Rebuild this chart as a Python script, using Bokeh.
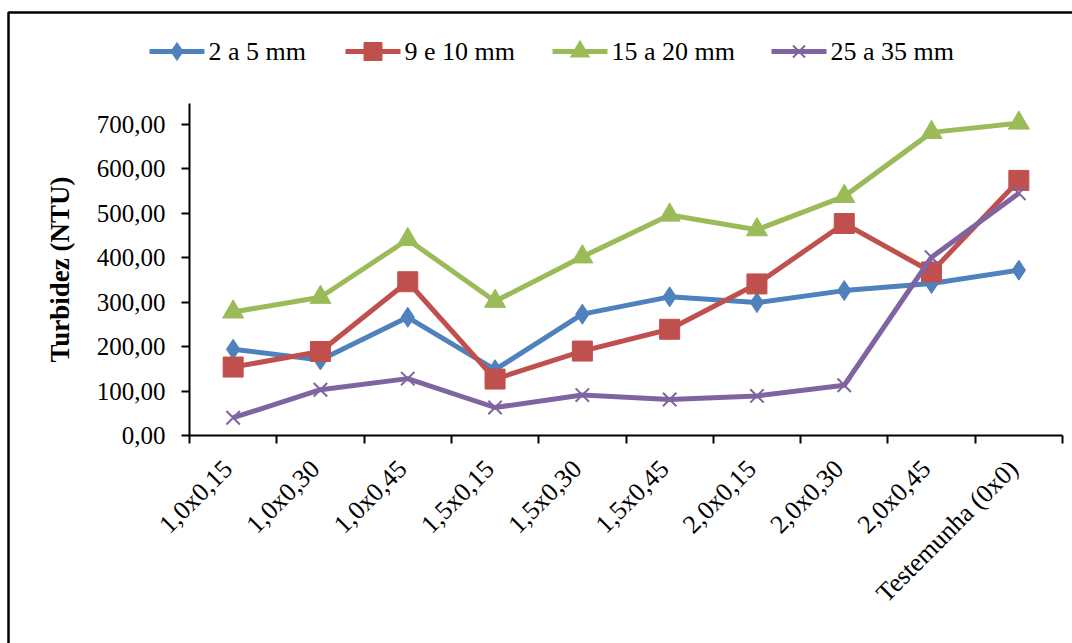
from bokeh.plotting import figure
from bokeh.models import Range1d, FixedTicker, BoxAnnotation, LinearAxis
from bokeh.core.properties import value
from bokeh.embed import file_html
from bokeh.resources import INLINE

# Spacing treatments (m x m) and turbidity readings (NTU) per gravel size
categories = ["1,0x0,15", "1,0x0,30", "1,0x0,45", "1,5x0,15", "1,5x0,30",
              "1,5x0,45", "2,0x0,15", "2,0x0,30", "2,0x0,45", "Testemunha (0x0)"]
s_2a5 = [194, 170, 266, 148, 273, 312, 299, 326, 342, 372]
s_9e10 = [154, 189, 346, 127, 190, 239, 341, 477, 368, 574]
s_15a20 = [278, 311, 441, 302, 402, 496, 463, 538, 682, 703]
s_25a35 = [40, 103, 128, 63, 91, 81, 89, 113, 401, 545]
series_names = ["2 a 5 mm", "9 e 10 mm", "15 a 20 mm", "25 a 35 mm"]
y_ticks = [0, 100, 200, 300, 400, 500, 600, 700]
y_max = 747

FONT = "Liberation Serif"
colors = ["#4F81BD", "#C0504D", "#9BBB59", "#8064A2"]
markers = ["diamond", "square", "triangle", "x"]
sizes = [20, 20, 21, 19]

# Page geometry: the plotting frame fills the canvas, and the axes are pinned
# at x=0 / y=0 so that legend, labels and border can sit anywhere on the page.
W, H = 1072, 643
AX_L, AX_R, AX_T, AX_B = 189, 1062, 103, 435
n = len(categories)
px_x = (AX_R - AX_L) / n
px_y = (AX_B - AX_T) / y_max
x_range = Range1d(-AX_L / px_x, n + (W - AX_R) / px_x)
y_range = Range1d(-(H - AX_B) / px_y, y_max + AX_T / px_y)


def sx(px):
    """page pixel column -> x data value"""
    return x_range.start + px / px_x


def sy(py):
    """page pixel row (from top) -> y data value"""
    return y_range.end - py / px_y


x = [i + 0.5 for i in range(n)]

p = figure(width=W, height=H, output_backend="svg", toolbar_location=None,
           x_range=x_range, y_range=y_range,
           x_axis_location=None, y_axis_location=None,
           min_border=0)
p.outline_line_color = None
p.grid.visible = False
p.background_fill_color = "white"
p.border_fill_color = "white"


def style_axis(ax):
    ax.major_tick_out = 8
    ax.major_tick_in = 0
    ax.minor_tick_line_color = None
    ax.axis_line_width = 2
    ax.major_tick_line_width = 2
    ax.axis_line_color = "black"
    ax.major_tick_line_color = "black"


# x axis: tick marks between categories
xa = LinearAxis(fixed_location=0, bounds=(0, n),
                ticker=FixedTicker(ticks=list(range(n + 1))),
                major_label_overrides={i: "" for i in range(n + 1)})
style_axis(xa)
p.add_layout(xa, "below")

# category names, rotated, ending just left of each category centre
label_pos = [xi - 0.06 for xi in x]
xl = LinearAxis(fixed_location=0, ticker=FixedTicker(ticks=label_pos),
                major_label_overrides={lp: c for lp, c in zip(label_pos, categories)},
                major_label_orientation=0.785398, major_label_standoff=23,
                major_label_text_font=FONT, major_label_text_font_size="26px",
                major_label_text_color="black",
                axis_line_color=None, major_tick_line_color=None,
                minor_tick_line_color=None)
p.add_layout(xl, "below")

ya = LinearAxis(fixed_location=0, bounds=(0, y_max),
                ticker=FixedTicker(ticks=y_ticks),
                major_label_overrides={t: f"{t},00" for t in y_ticks})
style_axis(ya)
ya.major_label_text_font = FONT
ya.major_label_text_font_size = "25px"
ya.major_label_text_color = "black"
ya.major_label_standoff = 16
ya.axis_label = "Turbidez (NTU)"
ya.axis_label_text_font = FONT
ya.axis_label_text_font_size = "27px"
ya.axis_label_text_font_style = "bold"
ya.axis_label_text_color = "black"
ya.axis_label_standoff = 19
p.add_layout(ya, "left")

for vals, col, mk, sz in zip([s_2a5, s_9e10, s_15a20, s_25a35],
                             colors, markers, sizes):
    p.line(x, vals, line_color=col, line_width=5, line_join="round")
    if mk == "x":
        p.scatter(x, vals, marker=mk, size=sz, line_color=col, line_width=2)
    else:
        p.scatter(x, vals, marker=mk, size=sz, fill_color=col, line_color=col)

# Horizontal legend row across the top: key line + marker, then the name
KEY_LEFT = [149, 345, 552, 771]
KEY_LEN, KEY_GAP, KEY_ROW = 55, 4, 51
for k0, name, col, mk, sz in zip(KEY_LEFT, series_names, colors, markers, sizes):
    p.line([sx(k0), sx(k0 + KEY_LEN)], [sy(KEY_ROW), sy(KEY_ROW)],
           line_color=col, line_width=5)
    mx, my = [sx(k0 + KEY_LEN / 2)], [sy(KEY_ROW)]
    if mk == "x":
        p.scatter(mx, my, marker=mk, size=sz - 2, line_color=col, line_width=2)
    else:
        p.scatter(mx, my, marker=mk, size=sz - 2, fill_color=col, line_color=col)
    p.text([sx(k0 + KEY_LEN + KEY_GAP)], [sy(KEY_ROW)], text=[name],
           text_font=value(FONT), text_font_size="26px", text_color="black",
           text_align="left", text_baseline="middle")

# Chart-area border
p.add_layout(BoxAnnotation(left=8, right=W + 10, top=H - 12, bottom=-10,
                           left_units="screen", right_units="screen",
                           top_units="screen", bottom_units="screen",
                           fill_alpha=0, line_color="black", line_alpha=1,
                           line_width=2.5))

open("out.html", "w").write(file_html(p, INLINE))
